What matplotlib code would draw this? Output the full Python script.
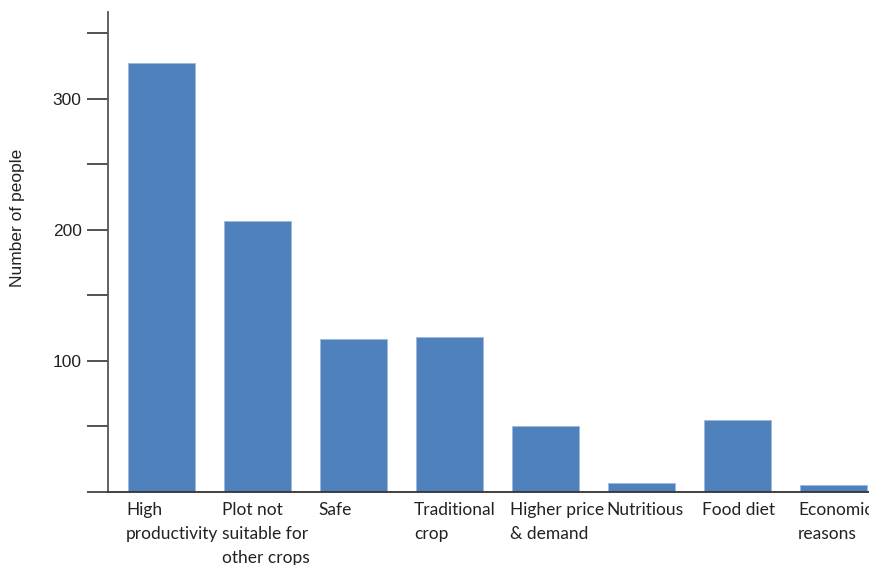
import matplotlib.pyplot as plt
import numpy as np

# ---- data ----
categories = ["High\nproductivity", "Plot not\nsuitable for\nother crops", "Safe",
              "Traditional\ncrop", "Higher price\n& demand", "Nutritious",
              "Food diet", "Economic\nreasons"]
people = [327, 207, 117, 118, 50, 7, 55, 5]
tick_vals = [50, 100, 150, 200, 250, 300, 350]
tick_text = ["", "100", "", "200", "", "300", ""]

fig = plt.figure(figsize=(8.7, 5.65), dpi=100)
ax = fig.add_axes([108/870, 73/565, 1 - 108/870, (492 - 12)/565])

x = np.arange(len(categories))
ax.bar(x, people, width=0.7, color="#4F81BD", edgecolor="#9DB8DC", linewidth=0.6)

ax.set_xlim(-0.557, 7.38)
ax.set_ylim(0, 366)

for s in ["top", "right"]:
    ax.spines[s].set_visible(False)
ax.spines["left"].set_color("#555555")
ax.spines["bottom"].set_color("#333333")
ax.spines["left"].set_linewidth(1.3)
ax.spines["bottom"].set_linewidth(1.3)

ax.set_yticks([0] + tick_vals)
ax.set_yticklabels([""] + tick_text, fontfamily="Liberation Sans", fontsize=12.5, color="#222222")
ax.tick_params(axis="y", length=15, width=1.2, color="#333333", pad=4)
ax.set_xticks([])

# category labels, left-aligned under each bar
for xi, lab in zip(x, categories):
    ax.text(xi - 0.37, -8, lab, ha="left", va="top", fontfamily="Lato",
            fontsize=12.5, color="#222222", linespacing=1.6, clip_on=False)

fig.text(18/870, 1 - 218/565, "Number of people", rotation=90, ha="center", va="center",
         fontfamily="Liberation Sans", fontsize=12.5, color="#222222")

plt.savefig("out.png", dpi=100)
